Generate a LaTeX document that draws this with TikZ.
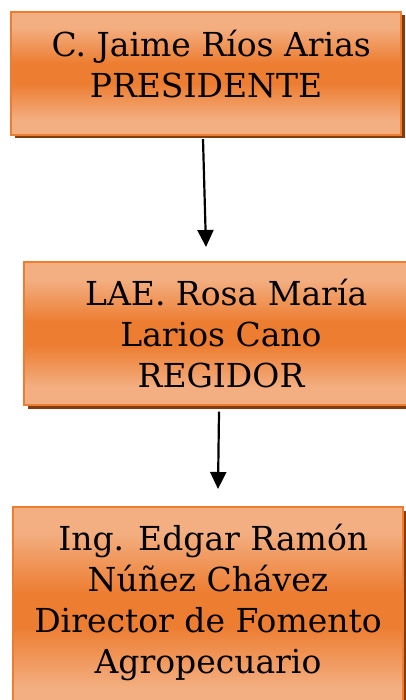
\documentclass[tikz,border=0pt]{standalone}
\usepackage{fontspec}
\setmainfont{DejaVu Serif}
\usepackage{tikz}
\usetikzlibrary{arrows.meta,shadows}
\definecolor{naranjaclaro}{HTML}{F3AF82}
\definecolor{naranja}{HTML}{ED7D31}
\definecolor{sombra}{HTML}{843C0C}
\pgfdeclareverticalshading{naranjado}{100bp}{color(0bp)=(naranjaclaro); color(31bp)=(naranjaclaro); color(46bp)=(naranja); color(54bp)=(naranja); color(69bp)=(naranjaclaro); color(100bp)=(naranjaclaro)}

\begin{document}
\begin{tikzpicture}[x=1pt, y=-1pt,
            caja/.style={draw=naranja, line width=1.2pt, shading=naranjado,
                drop shadow={shadow xshift=3.5pt, shadow yshift=-3.5pt, fill=sombra, opacity=1},
                align=center, inner sep=0pt, font=\fontsize{33}{41}\selectfont},
            flecha/.style={line width=2.2pt, -{Triangle[width=16pt,length=17pt]}}]
            \useasboundingbox (0,0) rectangle (405,700);
            \node[caja, minimum width=390pt, minimum height=123pt, text depth=20pt] (presidente) at (206,73.5) {~C. Jaime Ríos Arias\\PRESIDENTE};
            \node[caja, minimum width=394pt, minimum height=143pt] (regidor) at (221,333.5) {~LAE. Rosa María\\Larios Cano\\REGIDOR};
            \node[caja, minimum width=390pt, minimum height=206pt, text depth=22pt] (director) at (208,610) {~Ing. Edgar Ramón\\Núñez Chávez\\Director de Fomento\\Agropecuario};
            \coordinate (punta1) at (206,247);
            \coordinate (punta2) at (218,489);
            \draw[flecha] ([xshift=-3pt,yshift=-3.5pt]presidente.south) -- (punta1);
            \draw[flecha] ([xshift=-2pt,yshift=-6pt]regidor.south) -- (punta2);
        \end{tikzpicture}
\end{document}
